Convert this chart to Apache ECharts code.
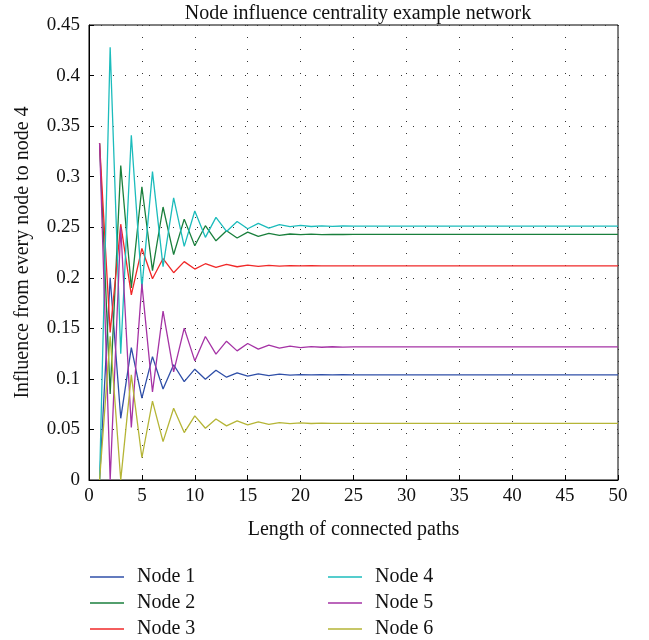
<!DOCTYPE html>
<html><head><meta charset="utf-8">
<script src="https://cdn.jsdelivr.net/npm/echarts@6/dist/echarts.min.js"></script>
<style>html,body{margin:0;padding:0;background:#fff}#c{width:649px;height:640px}</style>
</head><body><div id="c"></div>
<script>
var pathLengths = [];
for (var i = 1; i <= 50; i++) pathLengths.push(i);
var node1 = [0, 0.20, 0.061, 0.131, 0.081, 0.122, 0.090, 0.114, 0.0973, 0.1096, 0.0997, 0.1086, 0.1017, 0.1059, 0.1027, 0.105, 0.1033, 0.1047, 0.1037, 0.1043, 0.1039, 0.1042, 0.104, 0.1041, 0.104, 0.104, 0.104, 0.104, 0.104, 0.104, 0.104, 0.104, 0.104, 0.104, 0.104, 0.104, 0.104, 0.104, 0.104, 0.104, 0.104, 0.104, 0.104, 0.104, 0.104, 0.104, 0.104, 0.104, 0.104, 0.104];
var node2 = [0.333, 0.085, 0.311, 0.19, 0.290, 0.207, 0.270, 0.223, 0.258, 0.2317, 0.2515, 0.2366, 0.2465, 0.2393, 0.2452, 0.2409, 0.2439, 0.2419, 0.2433, 0.2426, 0.2431, 0.2427, 0.243, 0.2428, 0.243, 0.2429, 0.243, 0.243, 0.243, 0.243, 0.243, 0.243, 0.243, 0.243, 0.243, 0.243, 0.243, 0.243, 0.243, 0.243, 0.243, 0.243, 0.243, 0.243, 0.243, 0.243, 0.243, 0.243, 0.243, 0.243];
var node3 = [0.333, 0.146, 0.253, 0.183, 0.229, 0.199, 0.219, 0.205, 0.216, 0.2086, 0.2139, 0.2102, 0.2132, 0.2109, 0.2126, 0.2112, 0.2122, 0.2115, 0.212, 0.2117, 0.2119, 0.2118, 0.2118, 0.2118, 0.2118, 0.2118, 0.2118, 0.2118, 0.2118, 0.2118, 0.2118, 0.2118, 0.2118, 0.2118, 0.2118, 0.2118, 0.2118, 0.2118, 0.2118, 0.2118, 0.2118, 0.2118, 0.2118, 0.2118, 0.2118, 0.2118, 0.2118, 0.2118, 0.2118, 0.2118];
var node4 = [0, 0.428, 0.125, 0.341, 0.19, 0.305, 0.211, 0.279, 0.231, 0.266, 0.240, 0.2597, 0.2458, 0.2557, 0.2485, 0.2538, 0.2492, 0.2525, 0.2505, 0.2518, 0.2507, 0.2514, 0.2509, 0.2512, 0.251, 0.2511, 0.251, 0.251, 0.251, 0.251, 0.251, 0.251, 0.251, 0.251, 0.251, 0.251, 0.251, 0.251, 0.251, 0.251, 0.251, 0.251, 0.251, 0.251, 0.251, 0.251, 0.251, 0.251, 0.251, 0.251];
var node5 = [0.333, 0, 0.25, 0.052, 0.194, 0.087, 0.167, 0.107, 0.1502, 0.1178, 0.1419, 0.1245, 0.1373, 0.1277, 0.135, 0.1294, 0.1334, 0.1304, 0.1324, 0.131, 0.132, 0.1313, 0.1318, 0.1315, 0.1317, 0.1316, 0.1317, 0.1317, 0.1317, 0.1317, 0.1317, 0.1317, 0.1317, 0.1317, 0.1317, 0.1317, 0.1317, 0.1317, 0.1317, 0.1317, 0.1317, 0.1317, 0.1317, 0.1317, 0.1317, 0.1317, 0.1317, 0.1317, 0.1317, 0.1317];
var node6 = [0, 0.142, 0, 0.104, 0.022, 0.078, 0.038, 0.071, 0.0469, 0.0634, 0.0512, 0.0604, 0.0535, 0.0584, 0.0545, 0.0574, 0.0551, 0.0568, 0.0558, 0.0564, 0.0559, 0.0562, 0.056, 0.0561, 0.056, 0.056, 0.056, 0.056, 0.056, 0.056, 0.056, 0.056, 0.056, 0.056, 0.056, 0.056, 0.056, 0.056, 0.056, 0.056, 0.056, 0.056, 0.056, 0.056, 0.056, 0.056, 0.056, 0.056, 0.056, 0.056];
var seriesNames = ['Node 1', 'Node 2', 'Node 3', 'Node 4', 'Node 5', 'Node 6'];
var seriesColors = ['#2f4fa8', '#1a7f3c', '#f02828', '#1cbcbc', '#a533a5', '#b5b536'];
var seriesData = [node1, node2, node3, node4, node5, node6];

var FONT = '"Liberation Serif", "DejaVu Serif", serif';
var chart = echarts.init(document.getElementById('c'), null, {renderer: 'canvas'});
var series = seriesNames.map(function (name, k) {
  return {
    name: name, type: 'line', showSymbol: false, symbol: 'none',
    data: pathLengths.map(function (x, i) { return [x, seriesData[k][i]]; }),
    lineStyle: {width: 1.3, color: seriesColors[k]},
    itemStyle: {color: seriesColors[k]},
    animation: false
  };
});
var legendBase = {
  orient: 'vertical', icon: 'rect', itemWidth: 34, itemHeight: 1.5, itemGap: 6,
  padding: 0, height: 80,
  textStyle: {fontFamily: FONT, fontSize: 20, color: '#111', padding: [0, 0, 0, 8], lineHeight: 20}
};
chart.setOption({
  backgroundColor: '#fff',
  animation: false,
  title: {
    text: 'Node influence centrality example network', left: 353, top: -1, textAlign: 'center',
    textStyle: {fontFamily: FONT, fontSize: 20, fontWeight: 'normal', color: '#111'}
  },
  grid: {left: 89, right: 31, top: 25, bottom: 160, show: true, borderColor: '#000', borderWidth: 1, backgroundColor: 'transparent'},
  legend: [
    Object.assign({}, legendBase, {left: 90, top: 567, data: seriesNames.slice(0, 3)}),
    Object.assign({}, legendBase, {left: 328, top: 567, data: seriesNames.slice(3, 6)})
  ],
  xAxis: {
    type: 'value', min: 0, max: 50, interval: 5,
    name: 'Length of connected paths', nameLocation: 'middle', nameGap: 40,
    nameTextStyle: {fontFamily: FONT, fontSize: 20, color: '#111'},
    axisLine: {show: true, lineStyle: {color: '#000', width: 1}},
    axisTick: {show: true, inside: true, length: 5, lineStyle: {color: '#000'}},
    axisLabel: {fontFamily: FONT, fontSize: 19, color: '#111', margin: 7},
    splitLine: {show: true, lineStyle: {color: '#333', width: 1, type: [1, 11]}}
  },
  yAxis: {
    type: 'value', min: 0, max: 0.45, interval: 0.05,
    name: 'Influence from every node to node 4', nameLocation: 'middle', nameGap: 56,
    nameTextStyle: {fontFamily: FONT, fontSize: 20, color: '#111'},
    axisLine: {show: true, lineStyle: {color: '#000', width: 1}},
    axisTick: {show: true, inside: true, length: 5, lineStyle: {color: '#000'}},
    axisLabel: {fontFamily: FONT, fontSize: 19, color: '#111', margin: 9},
    splitLine: {show: true, lineStyle: {color: '#333', width: 1, type: [1, 11]}}
  },
  series: series
});
</script></body></html>
